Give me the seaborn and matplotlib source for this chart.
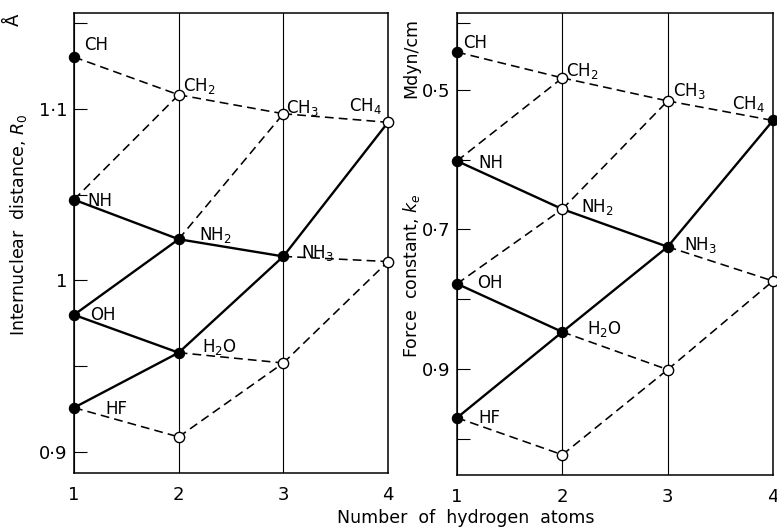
import matplotlib
matplotlib.use("Agg")
import matplotlib.pyplot as plt
import seaborn as sns
import pandas as pd

# ---------------- data ----------------
n_h = [1, 2, 3, 4]

# internuclear distance R0 (Angstrom), by central atom, index = n_H - 1
R0_C = [1.130, 1.108, 1.097, 1.092]
R0_N = [1.047, 1.024, 1.014, 1.011]
R0_O = [0.980, 0.958, 0.952]
R0_F = [0.926, 0.909]

# force constant ke (Mdyn/cm)
ke_C = [0.446, 0.483, 0.516, 0.544]
ke_N = [0.602, 0.671, 0.725, 0.774]
ke_O = [0.778, 0.847, 0.901]
ke_F = [0.970, 1.023]

# filled (True) / open (False) markers
fill_R0 = {"C": [True, False, False, False], "N": [True, True, True, False],
           "O": [True, True, False], "F": [True, False]}
fill_ke = {"C": [True, False, False, True], "N": [True, False, True, False],
           "O": [True, True, False], "F": [True, False]}

# labels
labels = {("C", 0): "CH", ("C", 1): "CH$_2$", ("C", 2): "CH$_3$", ("C", 3): "CH$_4$",
          ("N", 0): "NH", ("N", 1): "NH$_2$", ("N", 2): "NH$_3$",
          ("O", 0): "OH", ("O", 1): "H$_2$O", ("F", 0): "HF"}

# connecting segments (solid / dashed)
edges_R0 = [
    (("C", 0), ("C", 1), "--"), (("C", 1), ("C", 2), "--"), (("C", 2), ("C", 3), "--"),
    (("N", 0), ("C", 1), "--"), (("N", 2), ("N", 3), "--"), (("N", 1), ("C", 2), "--"),
    (("O", 1), ("O", 2), "--"), (("F", 0), ("F", 1), "--"), (("F", 1), ("O", 2), "--"),
    (("O", 2), ("N", 3), "--"),
    (("N", 0), ("N", 1), "-"), (("N", 1), ("N", 2), "-"), (("O", 0), ("N", 1), "-"),
    (("O", 0), ("O", 1), "-"), (("F", 0), ("O", 1), "-"), (("O", 1), ("N", 2), "-"),
    (("N", 2), ("C", 3), "-"),
]
edges_ke = [
    (("C", 0), ("C", 1), "--"), (("C", 1), ("C", 2), "--"), (("C", 2), ("C", 3), "--"),
    (("N", 0), ("C", 1), "--"), (("N", 2), ("N", 3), "--"), (("O", 0), ("N", 1), "--"),
    (("N", 1), ("C", 2), "--"), (("O", 1), ("O", 2), "--"), (("F", 0), ("F", 1), "--"),
    (("F", 1), ("O", 2), "--"), (("O", 2), ("N", 3), "--"),
    (("N", 0), ("N", 1), "-"), (("N", 1), ("N", 2), "-"), (("O", 0), ("O", 1), "-"),
    (("F", 0), ("O", 1), "-"), (("O", 1), ("N", 2), "-"), (("N", 2), ("C", 3), "-"),
]

# label offsets in pixels (dx, dy, ha)
off_R0 = {("C", 0): (10, 12, "left"), ("C", 1): (4, 9, "left"), ("C", 2): (3, 6, "left"),
          ("C", 3): (-6, 16, "right"), ("N", 0): (13, -1, "left"), ("N", 1): (20, 4, "left"),
          ("N", 2): (18, 3, "left"), ("O", 0): (16, 0, "left"), ("O", 1): (23, 6, "left"),
          ("F", 0): (31, -1, "left")}
off_ke = {("C", 0): (6, 9, "left"), ("C", 1): (4, 7, "left"), ("C", 2): (5, 10, "left"),
          ("C", 3): (-8, 16, "right"), ("N", 0): (21, -2, "left"), ("N", 1): (19, 2, "left"),
          ("N", 2): (16, 2, "left"), ("O", 0): (20, 1, "left"), ("O", 1): (25, 3, "left"),
          ("F", 0): (21, 0, "left")}

# ---------------- figure ----------------
sns.set_style("white")
plt.rcParams["font.family"] = ["DejaVu Sans"]
plt.rcParams["mathtext.fontset"] = "dejavusans"
for key in ["text.color", "axes.labelcolor", "xtick.color", "ytick.color",
            "axes.edgecolor"]:
    plt.rcParams[key] = "black"

fig = plt.figure(figsize=(7.77, 5.31), dpi=100)
axL = fig.add_axes([74 / 777, 1 - 473 / 531, (388 - 74) / 777, (473 - 13) / 531])
axR = fig.add_axes([457 / 777, 1 - 475 / 531, (773 - 457) / 777, (475 - 13) / 531])


def draw(ax, vals, fills, edges, offs):
    # segments
    for (a, i), (b, j), ls in edges:
        seg = pd.DataFrame({"n": [n_h[i], n_h[j]], "v": [vals[a][i], vals[b][j]]})
        sns.lineplot(data=seg, x="n", y="v", ax=ax, color="black",
                     lw=1.7 if ls == "-" else 1.15,
                     linestyle="-" if ls == "-" else (0, (5.5, 3.2)),
                     zorder=3, legend=False)
    # markers
    rows = []
    for atom, arr in vals.items():
        for k, v in enumerate(arr):
            rows.append({"n": n_h[k], "v": v, "filled": fills[atom][k]})
    pts = pd.DataFrame(rows)
    sns.scatterplot(data=pts[pts.filled], x="n", y="v", ax=ax, s=55,
                    color="black", edgecolor="black", linewidth=0.8,
                    zorder=5, clip_on=False, legend=False)
    sns.scatterplot(data=pts[~pts.filled], x="n", y="v", ax=ax, s=55,
                    color="white", edgecolor="black", linewidth=1.0,
                    zorder=5, clip_on=False, legend=False)
    # labels
    for (atom, k), txt in labels.items():
        dx, dy, ha = offs[(atom, k)]
        ax.annotate(txt, (n_h[k], vals[atom][k]), xytext=(dx, dy),
                    textcoords="offset pixels", ha=ha, va="center",
                    fontsize=12, color="black", zorder=6)
    # frame
    ax.set_xlim(1, 4)
    ax.set_xticks(n_h)
    ax.set_xticklabels([str(x) for x in n_h])
    ax.grid(axis="x", color="black", lw=0.8)
    ax.grid(axis="y", visible=False)
    ax.tick_params(axis="x", length=0, pad=9, labelsize=13, colors="black")
    ax.tick_params(axis="y", which="both", direction="in", length=9,
                   width=0.8, pad=5, labelsize=13, left=True, colors="black")
    for sp in ax.spines.values():
        sp.set_visible(True)
        sp.set_color("black")
        sp.set_linewidth(1.1)
    ax.set_xlabel("")
    ax.set_ylabel("")


draw(axL, {"C": R0_C, "N": R0_N, "O": R0_O, "F": R0_F}, fill_R0, edges_R0, off_R0)
draw(axR, {"C": ke_C, "N": ke_N, "O": ke_O, "F": ke_F}, fill_ke, edges_ke, off_ke)

axL.set_ylim(0.888, 1.1556)
axL.set_yticks([0.9, 1.0, 1.1])
axL.set_yticklabels(["0·9", "1", "1·1"])
axL.set_yticks([0.95, 1.05, 1.15], minor=True)

axR.set_ylim(1.052, 0.39)
axR.set_yticks([0.5, 0.7, 0.9])
axR.set_yticklabels(["0·5", "0·7", "0·9"])
axR.set_yticks([0.405, 0.6, 0.8, 1.0], minor=True)

# axis titles
fig.text(19 / 777, 1 - 225 / 531, "Internuclear  distance, $R_0$", rotation=90,
         ha="center", va="center", fontsize=12.5)
fig.text(14 / 777, 1 - 20 / 531, "Å", rotation=90, ha="center", va="center", fontsize=13)
fig.text(411 / 777, 1 - 276 / 531, "Force  constant, $k_e$", rotation=90,
         ha="center", va="center", fontsize=12.5)
fig.text(411 / 777, 1 - 58 / 531, "Mdyn/cm", rotation=90,
         ha="center", va="center", fontsize=12.5)
fig.text(466 / 777, 1 - 518 / 531, "Number  of  hydrogen  atoms",
         ha="center", va="center", fontsize=12.5)

fig.savefig("out.png", dpi=100, facecolor="white")
